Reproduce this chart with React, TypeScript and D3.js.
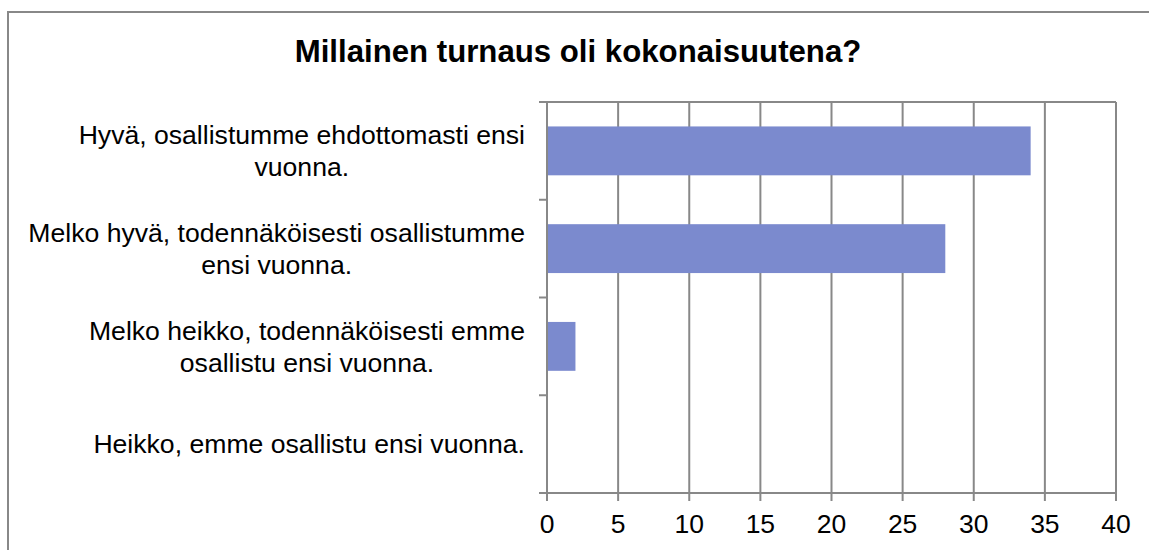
import React, { useEffect, useRef } from "react";
import * as d3 from "d3";

const title = "Millainen turnaus oli kokonaisuutena?";
const categoryLines = [
  ["Hyvä, osallistumme ehdottomasti ensi", "vuonna."],
  ["Melko hyvä, todennäköisesti osallistumme", "ensi vuonna."],
  ["Melko heikko, todennäköisesti emme", "osallistu ensi vuonna."],
  ["Heikko, emme osallistu ensi vuonna."],
];
const categories = categoryLines.map((l) => l.join(" "));
const values = [34, 28, 2, 0];
const xTicks = [0, 5, 10, 15, 20, 25, 30, 35, 40];

const W = 1149;
const H = 550;
const FONT = "'Liberation Sans', Arial, sans-serif";
const GRID = "#888888";

const App = () => {
  const ref = useRef<SVGSVGElement>(null);

  useEffect(() => {
    const svg = d3.select(ref.current);
    svg.selectAll("*").remove();

    // outer chart border
    svg
      .append("rect")
      .attr("x", 8)
      .attr("y", 12)
      .attr("width", 1160)
      .attr("height", 600)
      .attr("fill", "white")
      .attr("stroke", GRID)
      .attr("stroke-width", 2);

    svg
      .append("text")
      .attr("x", 578)
      .attr("y", 62)
      .attr("text-anchor", "middle")
      .style("font-family", FONT)
      .style("font-size", "31.2px")
      .style("font-weight", "bold")
      .text(title);

    const x = d3.scaleLinear().domain([0, 40]).range([547, 1116]);
    const y = d3
      .scaleBand()
      .domain(categories)
      .range([102, 493])
      .paddingInner(0.5)
      .paddingOuter(0.25);

    const step = y.step();
    const top = 102;
    const bottom = 493;

    // vertical gridlines
    svg
      .append("g")
      .selectAll("line")
      .data(xTicks)
      .enter()
      .append("line")
      .attr("x1", (d) => x(d))
      .attr("x2", (d) => x(d))
      .attr("y1", top)
      .attr("y2", bottom + 8)
      .attr("stroke", GRID)
      .attr("stroke-width", 2);

    // category boundary ticks + top line
    const bounds = d3.range(categories.length + 1).map((i) => top + i * step);
    svg
      .append("g")
      .selectAll("line")
      .data(bounds)
      .enter()
      .append("line")
      .attr("x1", 539)
      .attr("x2", (d, i) => (i === 0 || i === categories.length ? x(40) : x(0)))
      .attr("y1", (d) => d)
      .attr("y2", (d) => d)
      .attr("stroke", GRID)
      .attr("stroke-width", 2);

    // bars
    svg
      .append("g")
      .selectAll("rect")
      .data(values)
      .enter()
      .append("rect")
      .attr("x", x(0) + 1)
      .attr("y", (d, i) => y(categories[i])!)
      .attr("width", (d) => Math.max(0, x(d) - x(0) - 1))
      .attr("height", y.bandwidth())
      .attr("fill", "#7b8ace");

    // x tick labels
    svg
      .append("g")
      .selectAll("text")
      .data(xTicks)
      .enter()
      .append("text")
      .attr("x", (d) => x(d))
      .attr("y", 533)
      .attr("text-anchor", "middle")
      .style("font-family", FONT)
      .style("font-size", "26.5px")
      .text((d) => d);

    // category labels, lines centred, block right aligned
    const lineH = 32;
    categoryLines.forEach((lines, i) => {
      const cy = y(categories[i])! + y.bandwidth() / 2;
      const g = svg.append("g");
      const texts = g
        .selectAll("text")
        .data(lines)
        .enter()
        .append("text")
        .attr("y", (d, j) => cy + (j - (lines.length - 1) / 2) * lineH)
        .attr("dy", "0.35em")
        .attr("text-anchor", "middle")
        .style("font-family", FONT)
        .style("font-size", "26.6px")
        .text((d) => d);
      let maxW = 0;
      texts.each(function () {
        maxW = Math.max(maxW, (this as SVGTextElement).getComputedTextLength());
      });
      texts.attr("x", 525 - maxW / 2);
    });
  }, []);

  return (
    <svg
      ref={ref}
      width={W}
      height={H}
      style={{ position: "absolute", left: 0, top: 0, background: "white" }}
    ></svg>
  );
};

export default App;
